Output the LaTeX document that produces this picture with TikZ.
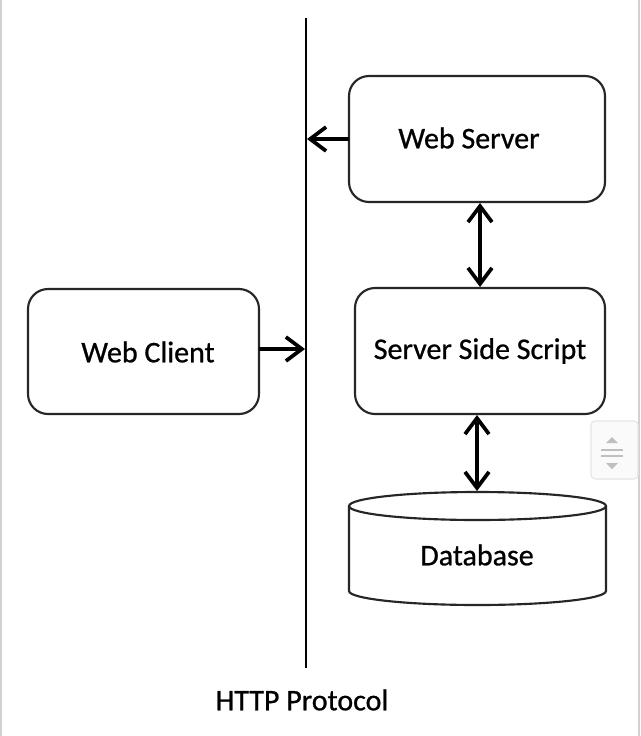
\documentclass[tikz,border=0pt]{standalone}
\usepackage{fontspec}
\setmainfont{Carlito}[FakeBold=0.8]
\usetikzlibrary{arrows.meta,shapes.geometric}
\tikzset{mytip/.tip={Straight Barb[length=12pt,width=18pt,line width=2.8pt]}}
\begin{document}
\begin{tikzpicture}[x=0.75pt,y=-0.75pt,
  box/.style={draw=black!85,line width=1.6pt,rounded corners=15pt},
  lbl/.style={font=\fontsize{22.5}{26}\selectfont},
  conn/.style={line width=2.4pt,-{mytip}},
  conn2/.style={line width=2.4pt,{mytip}-{mytip}}]
\useasboundingbox (0,0) rectangle (640,736);
\fill[white] (0,0) rectangle (640,736);
% frame edges
\draw[black!18,line width=2pt] (1,0) -- (1,736);
\draw[black!18,line width=2pt] (639,0) -- (639,736);
% HTTP line
\coordinate (ltop) at (306,18);
\coordinate (lbot) at (306,668);
\draw[line width=2pt] (ltop) -- (lbot);
\node[lbl] (http) at (302,700) {HTTP Protocol};
% boxes
\draw[box] (349,76) rectangle (605,202);
\node[lbl] (ws) at (469,138) {Web Server};
\coordinate (wsL) at (349,139);
\coordinate (wsB) at (480,203);
\draw[box] (355,288) rectangle (605,414);
\node[lbl] (sss) at (480,351) {Server Side Script};
\coordinate (sssT) at (480,287);
\coordinate (sssB) at (477,415);
\draw[box] (28,289) rectangle (259,414);
\node[lbl] (wc) at (148,352) {Web Client};
\coordinate (wcR) at (259,349);
% database cylinder
\draw[draw=black!85,line width=1.6pt,fill=white]
  (349,506) -- (349,591) arc[start angle=180,end angle=0,x radius=128.5,y radius=14]
  -- (606,506);
\draw[draw=black!85,line width=1.6pt] (477.5,506) ellipse [x radius=128.5,y radius=14];
\node[lbl] (db) at (477,555) {Database};
\coordinate (dbT) at (477,491);
% line endpoints
\coordinate (hit1) at (307,139);
\coordinate (hit2) at (305,349);
% connectors
\draw[conn] (wsL) -- (hit1);
\draw[conn] (wcR) -- (hit2);
\draw[conn2] (wsB) -- (sssT);
\draw[conn2] (sssB) -- (dbT);
% scroll widget
\draw[black!10,fill=black!2,line width=0.8pt,rounded corners=3pt] (591,421) rectangle (638,479);
\fill[black!25] (606,443) -- (618,443) -- (612,437) -- cycle;
\draw[black!25,line width=1.2pt] (601,450) -- (623,450);
\draw[black!25,line width=1.2pt] (601,456) -- (623,456);
\fill[black!25] (606,463) -- (618,463) -- (612,469) -- cycle;
\end{tikzpicture}
\end{document}
